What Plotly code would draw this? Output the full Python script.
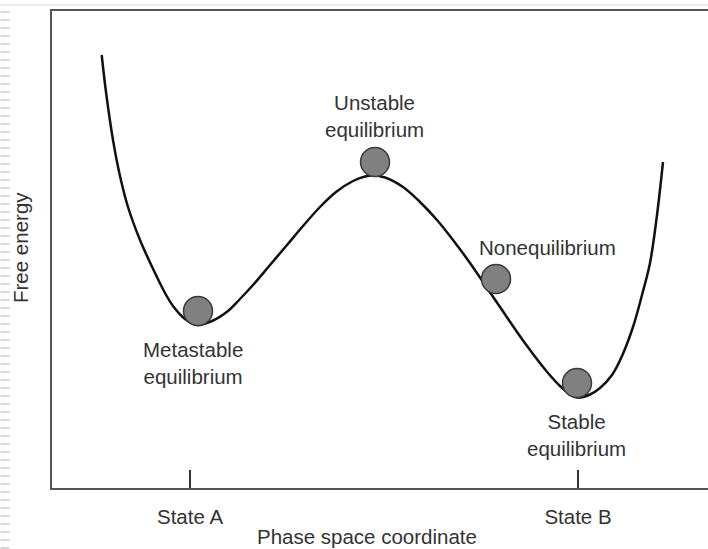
import plotly.graph_objects as go

# Free-energy landscape (arbitrary units)
coord = [49.7, 54, 61, 68, 76, 88, 103, 113, 121, 133, 145, 160, 176, 188, 201, 218, 235, 251,
         268, 284, 301, 313, 321, 333, 351, 368, 385, 401, 418, 435, 448, 465, 481, 496, 508,
         518, 525, 538, 548, 560, 570, 581, 590, 598, 605, 611]
energy = [433, 396, 348, 312, 281, 248, 215, 195, 182, 169, 163, 167, 177, 189, 203, 223, 243, 262,
          281, 296, 307, 311.5, 312.5, 310.5, 301, 286, 268, 248, 225, 200, 181, 156, 134, 115, 102,
          94, 90.5, 93.5, 100, 113, 132, 161, 193, 225, 273, 326]

# Balls (states)
ball_x = [146, 323, 444, 525]
ball_y = [177, 326, 209, 105]

# Labels
label_text = ["Metastable<br>equilibrium", "Unstable<br>equilibrium", "Nonequilibrium", "Stable<br>equilibrium"]
label_x = [141, 322, 495, 524]
label_y = [125, 372, 241, 53]

tick_vals = [138, 526]
tick_text = ["State A", "State B"]

FONT = "Liberation Sans, Arial, sans-serif"
TXT = "#333333"

fig = go.Figure()
fig.add_trace(go.Scatter(x=coord, y=energy, mode="lines",
                         line=dict(color="#111111", width=2.5, shape="spline", smoothing=1.0),
                         hoverinfo="skip", showlegend=False))
fig.add_trace(go.Scatter(x=ball_x, y=ball_y, mode="markers",
                         marker=dict(size=29, color="#808080", line=dict(color="#3a3a3a", width=1.5)),
                         hoverinfo="skip", showlegend=False))

for t, x, y in zip(label_text, label_x, label_y):
    fig.add_annotation(x=x, y=y, text=t, showarrow=False, xref="x", yref="y",
                       font=dict(family=FONT, size=20.5, color=TXT), align="center")

# axis titles
fig.add_annotation(x=(367 - 52) / 656, y=-(536 - 488) / 477, xref="paper", yref="paper",
                   xanchor="center", yanchor="middle",
                   text="Phase space coordinate", showarrow=False,
                   font=dict(family=FONT, size=20.5, color=TXT))
fig.add_annotation(x=(20 - 52) / 656, y=(488 - 248) / 477, xref="paper", yref="paper",
                   xanchor="center", yanchor="middle",
                   text="Free energy", showarrow=False, textangle=-90,
                   font=dict(family=FONT, size=20.5, color=TXT))

# screenshot artefacts: faint top line and dashed left edge
fig.add_shape(type="line", xref="paper", yref="paper", x0=-1, x1=2, y0=1.0127, y1=1.0127,
              line=dict(color="#e6e6e6", width=1.5), layer="above")
fig.add_shape(type="line", xref="paper", yref="paper", x0=-47/656, x1=-47/656,
              y0=-61/477, y1=1.0, line=dict(color="#d8d8d8", width=9, dash="2px,6px"), layer="above")

fig.update_layout(
    width=708, height=549,
    margin=dict(l=52, r=0, t=11, b=61),
    paper_bgcolor="white", plot_bgcolor="white",
    font=dict(family=FONT, color=TXT),
    xaxis=dict(range=[0, 656], showgrid=False, zeroline=False, showline=True, mirror=True,
               linecolor="#555555", linewidth=2, tickmode="array", tickvals=tick_vals,
               ticktext=tick_text, ticks="inside", ticklen=18, tickwidth=1.5, tickcolor="#333333",
               tickfont=dict(family=FONT, size=20.5, color=TXT), ticklabelstandoff=9),
    yaxis=dict(range=[0, 477], showgrid=False, zeroline=False, showline=True, mirror=False,
               linecolor="#555555", linewidth=2, showticklabels=False, ticks=""),
)

fig.write_html("out.html", config={"displayModeBar": False},
               post_script="document.body.style.margin='0';")
